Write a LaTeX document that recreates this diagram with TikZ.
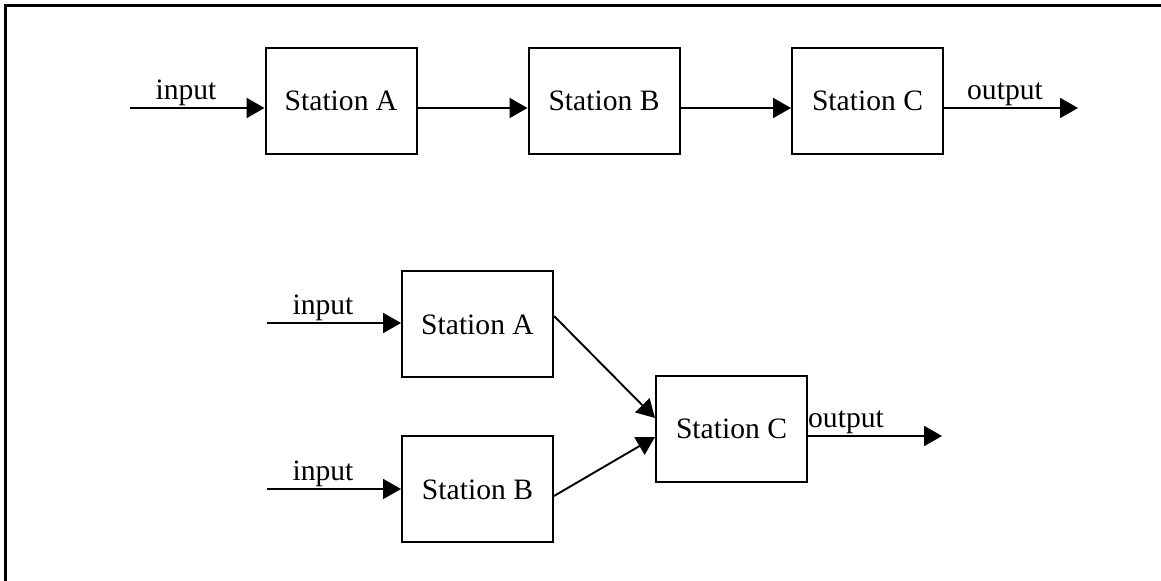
\documentclass[tikz,border=0pt]{standalone}
\usepackage{fontspec}
\setmainfont{Liberation Serif}
\usetikzlibrary{arrows.meta,calc}
\begin{document}
\begin{tikzpicture}[x=0.5pt,y=-0.5pt,
  font=\fontsize{14.8}{17}\selectfont,
  station/.style={draw,line width=1pt,rectangle,minimum width=75.5pt,minimum height=53pt,inner sep=0pt},
  conn/.style={line width=0.95pt,-{Triangle[length=9pt,width=10pt]}},
  lbl/.style={anchor=base,inner sep=0pt}]
\useasboundingbox (0,0) rectangle (1161,581);
\draw[line width=1.3pt] (5.5,581) -- (5.5,5.5) -- (1161,5.5);
% top row
\node[station] (A1) at (341,101) {Station A};
\node[station] (B1) at (604,101) {Station B};
\node[station] (C1) at (867.5,101) {Station C};
\coordinate (in1) at (130,108);
\coordinate (out1) at (1078,108);
\draw[conn] (in1) -- (in1 -| A1.west);
\draw[conn] (A1.east |- in1) -- (B1.west |- in1);
\draw[conn] (B1.east |- in1) -- (C1.west |- in1);
\draw[conn] (C1.east |- out1) -- (out1);
\node[lbl] (lin1) at (186,100) {input};
\node[lbl] (lout1) at (1005,100) {output};
% bottom
\node[station] (A2) at (477.5,324.5) {Station A};
\node[station] (B2) at (477.5,489.5) {Station B};
\node[station] (C2) at (731.5,429) {Station C};
\coordinate (in2) at (267,323);
\coordinate (in3) at (267,489);
\coordinate (out2) at (942,436);
\draw[conn] (in2) -- (in2 -| A2.west);
\draw[conn] (in3) -- (in3 -| B2.west);
\draw[conn] ($(A2.east)+(0,-8.5)$) -- ($(C2.west)+(0,-11)$);
\draw[conn] ($(B2.east)+(0,6.5)$) -- ($(C2.west)+(0,8)$);
\draw[conn] (C2.east |- out2) -- (out2);
\node[lbl] (lin2) at (323,315) {input};
\node[lbl] (lin3) at (323,481) {input};
\node[lbl] (lout2) at (846,428) {output};
\end{tikzpicture}
\end{document}
